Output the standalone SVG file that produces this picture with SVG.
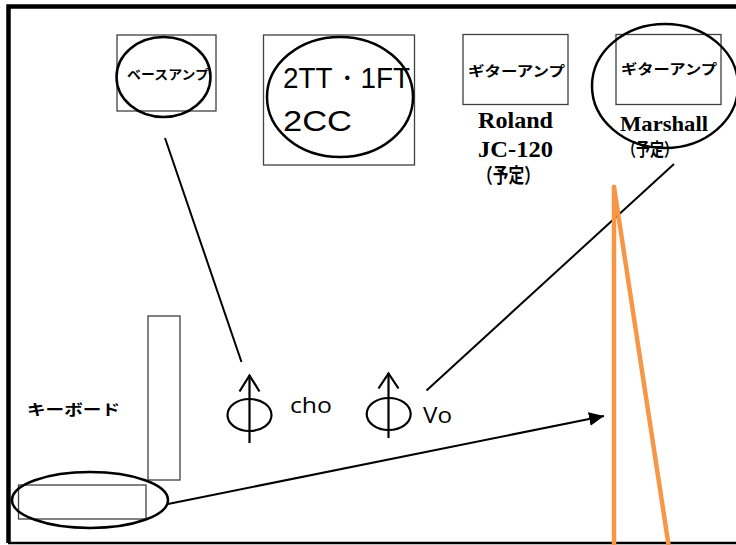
<svg xmlns="http://www.w3.org/2000/svg" width="736" height="545" viewBox="0 0 736 545">
<defs>
<style>
.box{fill:none;stroke:#404040;stroke-width:1.3}
.ring{fill:none;stroke:#000;stroke-width:2.5}
.ln{fill:none;stroke:#000;stroke-width:2}
.mic{fill:none;stroke:#000;stroke-width:2.2}
.orange{fill:none;stroke:#F79646;stroke-width:4.5;stroke-linecap:round}
.jp{font-family:"Noto Sans CJK JP","Noto Sans",sans-serif;font-weight:bold;fill:#000}
.serif{font-family:"Liberation Serif","Noto Sans CJK JP",serif;font-weight:bold;fill:#000}
.sans{font-family:"Liberation Sans",Arial,sans-serif;fill:#000}
.cal{font-family:"Open Sans","Liberation Sans",sans-serif;fill:#000}
</style>
<marker id="arr" markerUnits="userSpaceOnUse" markerWidth="16" markerHeight="14" refX="15" refY="7" orient="auto">
<path d="M0,0 L15,7 L0,14 Z" fill="#000"/>
</marker>
</defs>
<rect width="736" height="545" fill="#fff"/>
<g id="frame">
<path d="M740,6.5 H8.5 V543" fill="none" stroke="#000" stroke-width="4.5"/>
<line x1="8" y1="543" x2="740" y2="543" stroke="#000" stroke-width="2.5"/>
</g>
<g id="bass-amp">
<rect class="box" x="117" y="35" width="99" height="76"/>
<ellipse class="ring" cx="163.5" cy="77" rx="47" ry="40"/>
<text class="jp" x="127" y="79" font-size="13" textLength="82" lengthAdjust="spacingAndGlyphs">ベースアンプ</text>
</g>
<g id="drums">
<rect class="box" x="263.5" y="35" width="151" height="130"/>
<ellipse class="ring" cx="340" cy="97" rx="73" ry="60"/>
<text class="sans" x="283" y="88" font-size="29" textLength="127" lengthAdjust="spacingAndGlyphs">2TT・1FT</text>
<text class="sans" x="283" y="131" font-size="29" textLength="69" lengthAdjust="spacingAndGlyphs">2CC</text>
</g>
<g id="guitar-amp-roland">
<rect class="box" x="463" y="34.5" width="105" height="70"/>
<text class="jp" x="468" y="76" font-size="14" textLength="97" lengthAdjust="spacingAndGlyphs">ギターアンプ</text>
<text class="serif" x="478" y="128" font-size="23" textLength="75" lengthAdjust="spacingAndGlyphs">Roland</text>
<text class="serif" x="478" y="157" font-size="23" textLength="75" lengthAdjust="spacingAndGlyphs">JC-120</text>
<text class="serif" x="477" y="183" font-size="20" textLength="63" lengthAdjust="spacingAndGlyphs">（予定）</text>
</g>
<g id="guitar-amp-marshall">
<rect class="box" x="616" y="34.5" width="105" height="70"/>
<text class="jp" x="621" y="74" font-size="14" textLength="96" lengthAdjust="spacingAndGlyphs">ギターアンプ</text>
<text class="serif" x="620" y="131" font-size="22" textLength="88" lengthAdjust="spacingAndGlyphs">Marshall</text>
<text class="serif" x="622" y="156" font-size="18" textLength="56" lengthAdjust="spacingAndGlyphs">（予定）</text>
<ellipse class="ring" cx="665" cy="86" rx="73" ry="62"/>
</g>
<g id="keyboard">
<rect class="box" x="148" y="316" width="32" height="164"/>
<rect class="box" x="18.5" y="485" width="127.5" height="34"/>
<ellipse class="ring" cx="90" cy="500" rx="78" ry="28"/>
<text class="jp" x="27" y="415" font-size="15" textLength="93" lengthAdjust="spacingAndGlyphs">キーボード</text>
</g>
<g id="mic-cho">
<line class="mic" x1="249.5" y1="375" x2="249.5" y2="443"/>
<path class="mic" d="M239.5,391.5 L249.5,375.5 L259.5,391.5"/>
<ellipse class="mic" cx="249.5" cy="415" rx="22" ry="16"/>
<text class="cal" x="290" y="413" font-size="21" textLength="42" lengthAdjust="spacingAndGlyphs">cho</text>
</g>
<g id="mic-vo">
<line class="mic" x1="388.5" y1="373" x2="388.5" y2="438"/>
<path class="mic" d="M378.5,388.5 L388.5,373.5 L398.5,388.5"/>
<ellipse class="mic" cx="388.7" cy="414" rx="22" ry="16"/>
<text class="cal" x="423" y="423" font-size="21" textLength="29" lengthAdjust="spacingAndGlyphs">Vo</text>
</g>
<g id="connectors">
<line class="ln" x1="165" y1="138" x2="241.5" y2="362"/>
<line class="ln" x1="426.5" y1="390.5" x2="674" y2="164"/>
<line class="ln" x1="168" y1="504" x2="604" y2="416" marker-end="url(#arr)"/>
</g>
<g id="stage-lines">
<line class="orange" x1="614" y1="187" x2="614" y2="548"/>
<line class="orange" x1="614" y1="187" x2="669" y2="548"/>
</g>
</svg>
